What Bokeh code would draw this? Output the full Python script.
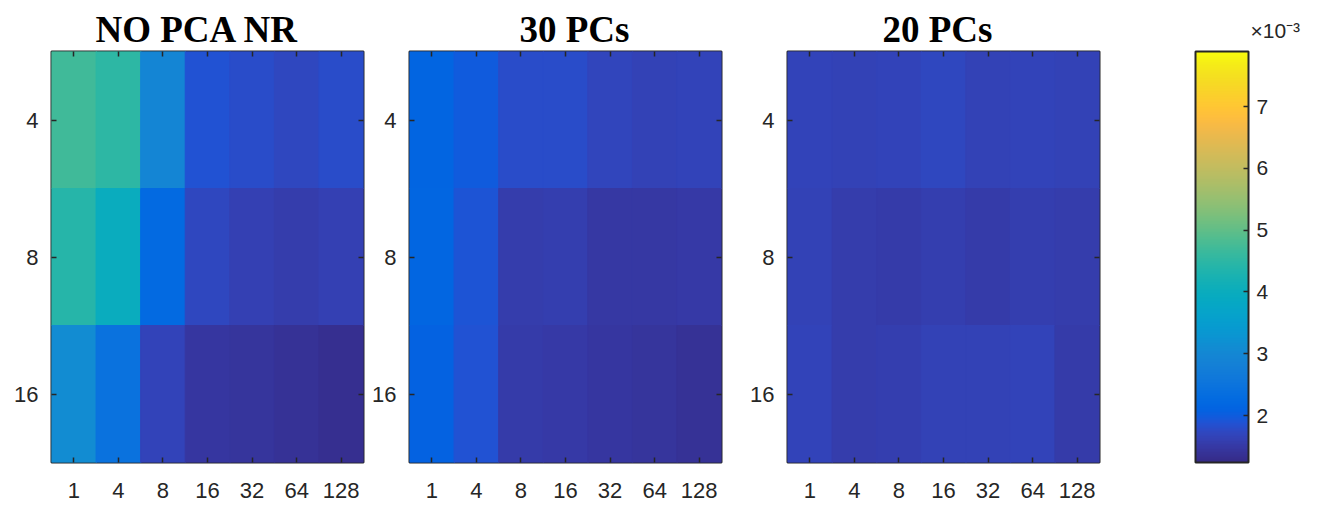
import numpy as np
from bokeh.plotting import figure
from bokeh.models import (ColumnDataSource, LinearColorMapper, ColorBar, FixedTicker,
                          CategoricalAxis, CustomJSTickFormatter)
from bokeh.layouts import row
from bokeh.transform import transform
from bokeh.embed import file_html
from bokeh.resources import INLINE

# ---------------- data ----------------
col_labels = ["1", "4", "8", "16", "32", "64", "128"]
row_labels = ["4", "8", "16"]
titles = ["NO PCA NR", "30 PCs", "20 PCs"]

no_pca_nr = [
    [4.72e-3, 4.51e-3, 2.93e-3, 1.87e-3, 1.79e-3, 1.73e-3, 1.81e-3],
    [4.41e-3, 3.99e-3, 2.25e-3, 1.72e-3, 1.61e-3, 1.56e-3, 1.62e-3],
    [3.09e-3, 2.45e-3, 1.66e-3, 1.45e-3, 1.43e-3, 1.38e-3, 1.32e-3],
]
pcs_30 = [
    [2.14e-3, 1.98e-3, 1.79e-3, 1.80e-3, 1.69e-3, 1.64e-3, 1.68e-3],
    [2.17e-3, 1.89e-3, 1.56e-3, 1.59e-3, 1.48e-3, 1.49e-3, 1.51e-3],
    [2.08e-3, 1.87e-3, 1.54e-3, 1.50e-3, 1.47e-3, 1.43e-3, 1.37e-3],
]
pcs_20 = [
    [1.68e-3, 1.65e-3, 1.67e-3, 1.73e-3, 1.65e-3, 1.68e-3, 1.65e-3],
    [1.64e-3, 1.57e-3, 1.55e-3, 1.58e-3, 1.54e-3, 1.59e-3, 1.57e-3],
    [1.67e-3, 1.57e-3, 1.58e-3, 1.65e-3, 1.63e-3, 1.67e-3, 1.55e-3],
]
cbar_low = 1.24e-3
cbar_high = 7.89e-3
cbar_ticks = [2e-3, 3e-3, 4e-3, 5e-3, 6e-3, 7e-3]
cbar_title = "×10⁻³"

# ---------------- parula colormap ----------------
_parula64 = [
    (0.2081, 0.1663, 0.5292), (0.2116, 0.1898, 0.5777), (0.2123, 0.2138, 0.6270),
    (0.2081, 0.2386, 0.6771), (0.1959, 0.2645, 0.7279), (0.1707, 0.2919, 0.7792),
    (0.1253, 0.3242, 0.8303), (0.0591, 0.3598, 0.8683), (0.0117, 0.3875, 0.8820),
    (0.0060, 0.4086, 0.8828), (0.0165, 0.4266, 0.8786), (0.0329, 0.4430, 0.8720),
    (0.0498, 0.4586, 0.8641), (0.0629, 0.4737, 0.8554), (0.0723, 0.4887, 0.8467),
    (0.0779, 0.5040, 0.8384), (0.0793, 0.5200, 0.8312), (0.0749, 0.5375, 0.8263),
    (0.0641, 0.5570, 0.8240), (0.0488, 0.5772, 0.8228), (0.0343, 0.5966, 0.8199),
    (0.0265, 0.6137, 0.8135), (0.0239, 0.6287, 0.8038), (0.0231, 0.6418, 0.7913),
    (0.0228, 0.6535, 0.7768), (0.0267, 0.6642, 0.7607), (0.0384, 0.6743, 0.7436),
    (0.0590, 0.6838, 0.7254), (0.0843, 0.6928, 0.7062), (0.1133, 0.7015, 0.6859),
    (0.1453, 0.7098, 0.6646), (0.1801, 0.7177, 0.6424), (0.2178, 0.7250, 0.6193),
    (0.2586, 0.7317, 0.5954), (0.3022, 0.7376, 0.5712), (0.3482, 0.7424, 0.5473),
    (0.3953, 0.7459, 0.5244), (0.4420, 0.7481, 0.5033), (0.4871, 0.7491, 0.4840),
    (0.5300, 0.7491, 0.4661), (0.5709, 0.7485, 0.4494), (0.6099, 0.7473, 0.4337),
    (0.6473, 0.7456, 0.4188), (0.6834, 0.7435, 0.4044), (0.7184, 0.7411, 0.3905),
    (0.7525, 0.7384, 0.3768), (0.7858, 0.7356, 0.3633), (0.8185, 0.7327, 0.3498),
    (0.8507, 0.7299, 0.3360), (0.8824, 0.7274, 0.3217), (0.9139, 0.7258, 0.3063),
    (0.9450, 0.7261, 0.2886), (0.9739, 0.7314, 0.2666), (0.9938, 0.7455, 0.2403),
    (0.9990, 0.7653, 0.2164), (0.9955, 0.7861, 0.1967), (0.9880, 0.8066, 0.1794),
    (0.9789, 0.8271, 0.1633), (0.9697, 0.8481, 0.1475), (0.9626, 0.8705, 0.1309),
    (0.9589, 0.8949, 0.1132), (0.9598, 0.9218, 0.0948), (0.9661, 0.9514, 0.0755),
    (0.9763, 0.9831, 0.0538),
]
_arr = np.array(_parula64)
_xs = np.linspace(0, 1, len(_arr))
_xn = np.linspace(0, 1, 256)
parula = ["#%02x%02x%02x" % tuple(int(round(255 * np.interp(t, _xs, _arr[:, k]))) for k in range(3))
          for t in _xn]

mapper = LinearColorMapper(palette=parula, low=cbar_low, high=cbar_high)

INK = "#262626"
FONT = "Liberation Sans"
TICK_FS = "22px"
H = 508
TOP = 51
BOTTOM = H - 51 - 411


def style_axis(ax, labels=True, standoff=12):
    ax.axis_line_color = None
    ax.major_tick_in = 5
    ax.major_tick_out = 0
    ax.major_tick_line_color = INK
    ax.major_tick_line_width = 1.5
    ax.minor_tick_line_color = None
    ax.major_label_text_font = FONT
    if labels:
        ax.major_label_text_color = INK
        ax.major_label_text_font_size = TICK_FS
        ax.major_label_standoff = standoff
    else:
        # tick marks only (mirror ticks, as in the reference)
        ax.major_label_text_color = None
        ax.major_label_text_font_size = "1px"
        ax.major_label_standoff = 0


def make_panel(title, values, border_left, title_offset):
    xs = [c for r in row_labels for c in col_labels]
    ys = [r for r in row_labels for c in col_labels]
    vs = [v for rv in values for v in rv]
    src = ColumnDataSource(dict(x=xs, y=ys, v=vs))
    p = figure(width=border_left + 312 + 3, height=H,
               x_range=col_labels, y_range=list(reversed(row_labels)),
               output_backend="svg", toolbar_location=None,
               min_border_left=border_left, min_border_right=3,
               min_border_top=TOP, min_border_bottom=BOTTOM, title=title)
    p.rect(x="x", y="y", width=1, height=1, source=src, dilate=True,
           fill_color=transform("v", mapper), line_color=transform("v", mapper),
           line_width=1)
    p.xgrid.grid_line_color = None
    p.ygrid.grid_line_color = None
    p.outline_line_color = INK
    p.outline_line_width = 2
    p.background_fill_color = "white"
    p.border_fill_color = "white"
    style_axis(p.xaxis[0], True, 20)
    style_axis(p.yaxis[0], True, 13)
    top = CategoricalAxis()
    style_axis(top, False)
    p.add_layout(top, "above")
    right = CategoricalAxis()
    style_axis(right, False)
    p.add_layout(right, "right")
    p.title.align = "left"
    p.title.offset = title_offset
    p.title.text_font = "Liberation Serif"
    p.title.text_font_style = "bold"
    p.title.text_font_size = "37px"
    p.title.text_color = "black"
    p.title.standoff = 3
    return p


p1 = make_panel(titles[0], no_pca_nr, 51, 44)
p2 = make_panel(titles[1], pcs_30, 43, 110)
p3 = make_panel(titles[2], pcs_20, 63, 95)

# colorbar panel
p4 = figure(width=214, height=H, output_backend="svg", toolbar_location=None,
            min_border_left=0, min_border_right=0, min_border_top=TOP,
            min_border_bottom=BOTTOM, title=cbar_title,
            x_axis_location=None, y_axis_location=None)
p4.outline_line_color = None
p4.grid.grid_line_color = None
p4.background_fill_color = "white"
p4.border_fill_color = "white"
p4.title.align = "left"
p4.title.offset = 148
p4.title.text_font = FONT
p4.title.text_font_style = "normal"
p4.title.text_font_size = "21px"
p4.title.text_color = INK
p4.title.standoff = 20

cb = ColorBar(color_mapper=mapper, location=(93, 0), width=53, height=411,
              padding=0, margin=0,
              ticker=FixedTicker(ticks=cbar_ticks),
              formatter=CustomJSTickFormatter(code="return (tick*1000).toFixed(0);"),
              major_tick_in=5, major_tick_out=0,
              major_tick_line_color=INK, major_tick_line_width=1.5,
              minor_tick_line_color=None,
              bar_line_color=INK, bar_line_width=2,
              label_standoff=8,
              major_label_text_font=FONT, major_label_text_font_size="21px",
              major_label_text_color=INK,
              background_fill_color=None, border_line_color=None)
p4.add_layout(cb, "center")

layout = row(p1, p2, p3, p4, spacing=0)
open("out.html", "w").write(file_html(layout, INLINE))
